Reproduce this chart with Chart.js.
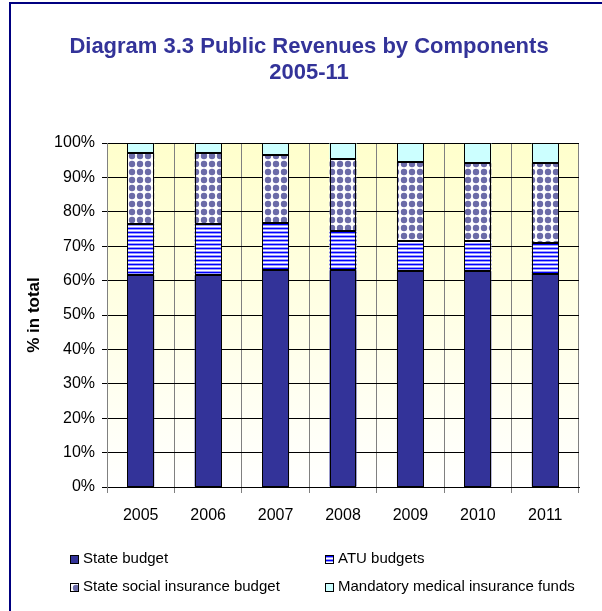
<!DOCTYPE html>
<html>
<head>
<meta charset="utf-8">
<script src="https://cdn.jsdelivr.net/npm/chart.js@4.4.1/dist/chart.umd.min.js"></script>
<style>
  body { margin: 0; background: #fff; }
  #wrap { position: relative; width: 602px; height: 611px; overflow: hidden; }
  #frame { position: absolute; left: 9px; top: 2px; width: 700px; height: 700px;
           border-left: 2px solid #000080; border-top: 2px solid #000080; }
  #chart { position: absolute; left: 0; top: 0; }
</style>
</head>
<body>
<div id="wrap">
  <div id="frame"></div>
  <canvas id="chart" width="602" height="611"></canvas>
</div>
<script>
const years = ['2005', '2006', '2007', '2008', '2009', '2010', '2011'];
const stateBudget = [61.5, 61.5, 63.2, 63.0, 62.7, 62.7, 61.9];
const atuBudgets = [14.9, 14.9, 13.5, 11.3, 8.9, 8.9, 9.0];
const socialInsurance = [20.6, 20.6, 19.8, 21.1, 23.0, 22.5, 23.2];
const medicalFunds = [3.0, 3.0, 3.5, 4.6, 5.4, 5.9, 5.9];
const titleLines = ['Diagram 3.3 Public Revenues by Components', '2005-11'];

const FONT = "'Liberation Sans', Arial, sans-serif";

// striped fill for ATU budgets
function stripePattern() {
  const c = document.createElement('canvas');
  c.width = 4; c.height = 4;
  const g = c.getContext('2d');
  const rows = ['#0000ff', '#9a9aff', '#ffffff', '#9a9aff'];
  rows.forEach((col, i) => { g.fillStyle = col; g.fillRect(0, i, 4, 1); });
  return g.createPattern(c, 'repeat');
}

// blotchy fill for social insurance
function dotPattern() {
  const c = document.createElement('canvas');
  c.width = 8; c.height = 8;
  const g = c.getContext('2d');
  g.fillStyle = '#ffffff';
  g.fillRect(0, 0, 8, 8);
  g.fillStyle = '#6b6ba8';
  g.beginPath();
  g.arc(4, 4, 3.2, 0, Math.PI * 2);
  g.fill();
  return g.createPattern(c, 'repeat');
}

const plotBg = {
  id: 'plotBg',
  beforeDraw(chart) {
    const {ctx, chartArea: a} = chart;
    const grad = ctx.createLinearGradient(0, a.top, 0, a.bottom);
    grad.addColorStop(0, '#ffffcc');
    grad.addColorStop(1, '#ffffff');
    ctx.save();
    ctx.fillStyle = grad;
    ctx.fillRect(a.left, a.top, a.right - a.left, a.bottom - a.top);
    ctx.restore();
  }
};

// crisp black outlines around every bar segment
const barOutlines = {
  id: 'barOutlines',
  afterDatasetsDraw(chart) {
    const ctx = chart.ctx;
    ctx.save();
    ctx.strokeStyle = '#000';
    ctx.lineWidth = 1;
    chart.data.datasets.forEach((ds, i) => {
      chart.getDatasetMeta(i).data.forEach(el => {
        const l = Math.round(el.x - el.width / 2), r = Math.round(el.x + el.width / 2);
        const t = Math.round(Math.min(el.y, el.base)), b = Math.round(Math.max(el.y, el.base));
        ctx.strokeRect(l + 0.5, t + 0.5, r - l - 1, b - t - 1);
      });
    });
    ctx.restore();
  }
};

const titleText = {
  id: 'titleText',
  afterDraw(chart) {
    const ctx = chart.ctx;
    ctx.save();
    ctx.font = 'bold 22px ' + FONT;
    ctx.fillStyle = '#333399';
    ctx.textAlign = 'center';
    ctx.textBaseline = 'middle';
    titleLines.forEach((t, i) => ctx.fillText(t, 309, 47 + i * 26));
    ctx.restore();
  }
};

const legendBoxes = {
  id: 'legendBoxes',
  afterDraw(chart) {
    const ctx = chart.ctx;
    const colX = [70, 325];
    const rowY = [559, 587];
    ctx.save();
    ctx.font = '15px ' + FONT;
    ctx.textBaseline = 'middle';
    chart.data.datasets.forEach((ds, i) => {
      const x = colX[i % 2], y = rowY[Math.floor(i / 2)];
      ctx.fillStyle = ds.backgroundColor;
      ctx.fillRect(x, y - 4, 8, 8);
      ctx.strokeStyle = '#000';
      ctx.lineWidth = 1;
      ctx.strokeRect(x + 0.5, y - 3.5, 8, 8);
      ctx.fillStyle = '#000';
      ctx.fillText(ds.label, x + 13, y);
    });
    ctx.restore();
  }
};

const barStyle = { borderWidth: 0, barPercentage: 0.4, categoryPercentage: 1 };

const ctx = document.getElementById('chart');

new Chart(ctx, {
  type: 'bar',
  data: {
    labels: years,
    datasets: [
      { label: 'State budget', data: stateBudget, backgroundColor: '#333399', ...barStyle },
      { label: 'ATU budgets', data: atuBudgets, backgroundColor: stripePattern(), ...barStyle },
      { label: 'State social insurance budget', data: socialInsurance, backgroundColor: dotPattern(), ...barStyle },
      { label: 'Mandatory medical insurance funds', data: medicalFunds, backgroundColor: '#ccffff', ...barStyle }
    ]
  },
  options: {
    responsive: false,
    animation: false,
    layout: { padding: { left: 0, right: 23, top: 143, bottom: 0 } },
    plugins: {
      legend: { display: false },
      tooltip: { enabled: false },
      title: { display: false }
    },
    scales: {
      x: {
        stacked: true,
        afterFit(s) { s.height = 124; },
        grid: { color: '#808080', lineWidth: 1, tickLength: 6, offset: true },
        border: { color: '#000' },
        ticks: { color: '#000', padding: 13, font: { family: FONT, size: 16 } }
      },
      y: {
        stacked: true,
        min: 0,
        max: 100,
        afterFit(s) { s.width = 107; },
        grid: { color: '#000', lineWidth: 1, tickLength: 5 },
        border: { color: '#808080' },
        ticks: {
          stepSize: 10,
          color: '#000',
          padding: 7,
          font: { family: FONT, size: 16 },
          callback: v => v + '%'
        },
        title: {
          display: true,
          text: '% in total',
          color: '#000',
          font: { family: FONT, size: 17, weight: 'bold' },
          padding: { top: 24, bottom: 0 }
        }
      }
    }
  },
  plugins: [plotBg, barOutlines, titleText, legendBoxes]
});
</script>
</body>
</html>
